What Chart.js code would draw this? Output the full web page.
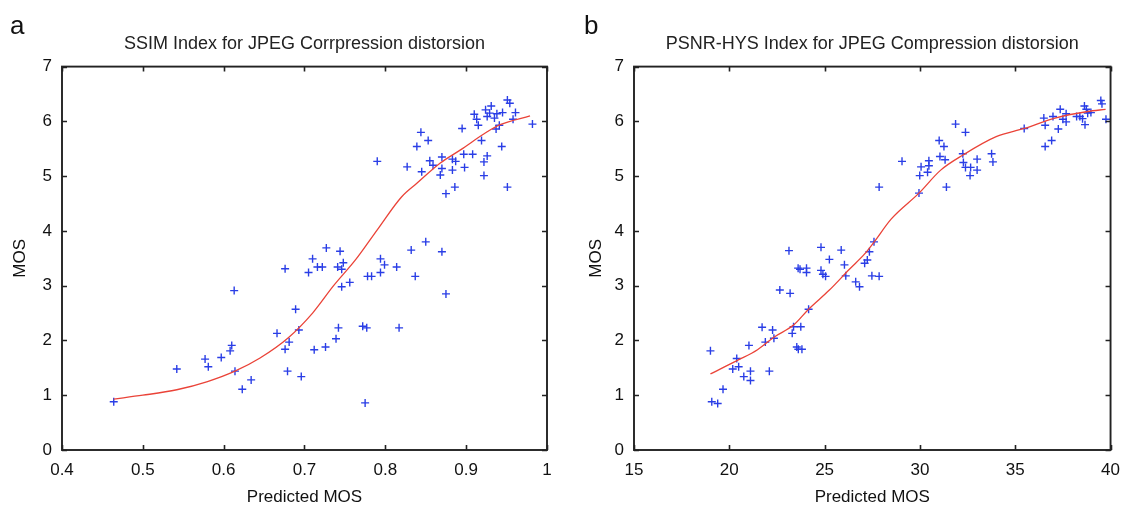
<!DOCTYPE html>
<html>
<head>
<meta charset="utf-8">
<script src="https://cdn.jsdelivr.net/npm/chart.js@4.4.1/dist/chart.umd.min.js"></script>
<style>
    body { margin: 0; background: #fff; }
    #wrap { position: relative; width: 1130px; height: 509px; overflow: hidden; }
    .panel { position: absolute; top: 0; width: 565px; height: 509px; }
    .letra { position: absolute; top: 10px; font-family: "Liberation Sans", Arial, sans-serif; font-size: 26px; color: #111; }
</style>
</head>
<body>
<div id="wrap">
    <div class="panel" style="left:0"><canvas id="chartA" width="565" height="509"></canvas></div>
    <div class="panel" style="left:565px"><canvas id="chartB" width="565" height="509"></canvas></div>
    <span class="letra" style="left:10px">a</span>
    <span class="letra" style="left:584px">b</span>
</div>
<script>
// painel a - SSIM
var ssimX = [0.790,0.827,0.839,0.844,0.853,0.845,0.855,0.859,0.868,0.870,0.870,0.875,0.883,0.883,0.886,0.887,0.897,0.898,0.895,0.908,0.910,0.913,0.915,0.919,0.922,0.922,0.926,0.924,0.926,0.931,0.929,0.935,0.938,0.937,0.941,0.945,0.944,0.951,0.954,0.961,0.958,0.951,0.982,
    0.727,0.744,0.710,0.794,0.832,0.850,0.870,
    0.705,0.716,0.722,0.741,0.746,0.748,0.746,0.756,0.778,0.783,0.794,0.799,0.814,0.837,0.875,0.742,0.772,0.777,0.817,0.739,0.712,0.726,0.696,0.775,
    0.464,0.542,0.577,0.581,0.597,0.608,0.610,0.613,0.614,0.623,0.634,0.666,0.676,0.689,0.693,0.676,0.681,0.679];
var ssimMos = [5.27,5.17,5.54,5.80,5.65,5.08,5.28,5.20,5.02,5.35,5.14,4.68,5.31,5.11,4.80,5.27,5.40,5.16,5.87,5.40,6.13,6.04,5.93,5.65,5.26,5.01,5.37,6.21,6.09,6.28,6.15,6.06,6.14,5.86,5.93,6.16,5.54,6.39,6.33,6.16,6.04,4.80,5.95,
    3.69,3.63,3.49,3.49,3.65,3.80,3.62,
    3.24,3.34,3.34,3.34,3.30,3.42,2.98,3.06,3.17,3.17,3.24,3.38,3.34,3.17,2.85,2.23,2.26,2.23,2.23,2.03,1.83,1.88,1.34,0.86,
    0.88,1.48,1.66,1.52,1.69,1.81,1.91,2.91,1.44,1.11,1.28,2.13,3.31,2.57,2.19,1.84,1.97,1.44];
var ssimFitX = [0.464,0.50,0.542,0.58,0.614,0.645,0.68,0.71,0.736,0.763,0.79,0.82,0.839,0.868,0.893,0.926,0.942,0.979];
var ssimFitMos = [0.93,1.00,1.10,1.25,1.44,1.68,2.05,2.50,3.00,3.47,4.02,4.62,4.87,5.24,5.48,5.81,5.94,6.10];
var ssimTickVals = [0.4,0.5,0.6,0.7,0.8,0.9,1];
var ssimTickLabels = ['0.4','0.5','0.6','0.7','0.8','0.9','1'];

// painel b - PSNR-HYS
var psnrX = [19.01,19.08,19.39,19.67,20.18,20.39,20.49,20.76,21.11,21.11,21.03,22.10,21.72,21.89,22.27,22.34,22.65,23.19,23.30,23.37,23.75,23.54,23.62,23.81,24.16,
    23.61,23.71,24.05,24.05,24.81,24.91,25.05,25.25,26.04,26.11,26.63,26.83,27.10,27.24,27.48,27.35,27.86,23.13,24.81,25.87,
    27.86,27.59,29.06,29.95,29.99,30.06,30.40,30.47,30.47,31.01,31.26,31.05,31.32,31.39,31.87,32.39,32.25,32.28,32.39,32.63,32.66,33.00,33.00,33.76,33.83,
    35.47,36.50,36.57,36.57,36.91,36.98,37.26,37.36,37.50,37.67,37.67,38.22,38.39,38.53,38.63,38.73,38.66,38.80,38.97,39.49,39.55,39.76];
var psnrMos = [1.81,0.88,0.85,1.11,1.48,1.67,1.52,1.34,1.27,1.44,1.91,1.44,2.24,1.97,2.19,2.04,2.92,2.86,2.13,2.25,2.25,1.88,1.84,1.84,2.57,
    3.32,3.30,3.32,3.24,3.28,3.21,3.17,3.48,3.38,3.18,3.07,2.98,3.41,3.47,3.18,3.62,3.17,3.64,3.70,3.65,
    4.80,3.80,5.27,4.69,5.01,5.17,5.07,5.28,5.19,5.65,5.54,5.36,5.30,4.80,5.95,5.80,5.41,5.25,5.16,5.01,5.16,5.31,5.11,5.41,5.26,
    5.87,6.06,5.93,5.54,5.65,6.09,5.86,6.22,6.04,6.14,5.99,6.09,6.09,6.05,6.28,6.22,5.94,6.15,6.16,6.38,6.32,6.04];
var psnrFitX = [19.01,20.45,21.48,22.34,23.37,24.16,25.25,26.3,27.1,27.6,28.5,29.95,31.09,32.28,34.0,35.47,37.08,38.80,39.74];
var psnrFitMos = [1.39,1.64,1.83,2.06,2.28,2.57,2.92,3.30,3.58,3.80,4.22,4.69,5.11,5.39,5.72,5.87,6.06,6.18,6.22];
var psnrTickVals = [15,20,25,30,35,40];
var psnrTickLabels = ['15','20','25','30','35','40'];

var mosTickVals = [0,1,2,3,4,5,6,7];

var fonte = '"Liberation Sans", Arial, sans-serif';

// caixa preta + ticks para dentro (estilo matlab)
var caixaPlugin = {
    id: 'caixa',
    afterDatasetsDraw: function(chart) {
        var ctx = chart.ctx;
        var area = chart.chartArea;
        var sx = chart.scales.x;
        var sy = chart.scales.y;
        ctx.save();
        ctx.strokeStyle = '#222';
        ctx.lineWidth = 1.6;
        ctx.beginPath();
        sx.ticks.forEach(function(t) {
            var px = Math.round(sx.getPixelForValue(t.value)) + 0.5;
            ctx.moveTo(px, area.bottom); ctx.lineTo(px, area.bottom - 5);
            ctx.moveTo(px, area.top); ctx.lineTo(px, area.top + 5);
        });
        sy.ticks.forEach(function(t) {
            var py = Math.round(sy.getPixelForValue(t.value)) + 0.5;
            ctx.moveTo(area.left, py); ctx.lineTo(area.left + 5, py);
            ctx.moveTo(area.right, py); ctx.lineTo(area.right - 5, py);
        });
        ctx.stroke();
        ctx.lineWidth = 1.9;
        ctx.strokeRect(area.left, area.top, area.right - area.left, area.bottom - area.top);
        ctx.restore();
    }
};

function montaGrafico(idCanvas, titulo, xs, ys, fitXs, fitYs, xMin, xMax, tickVals, tickLabels, larguraY, padDir, padTituloY) {
    var ctx = document.getElementById(idCanvas).getContext('2d');
    var pontos = [];
    var curva = [];
    for (let i = 0; i < xs.length; i++) {
        pontos.push({x: xs[i], y: ys[i]});
    }
    for (let i = 0; i < fitXs.length; i++) {
        curva.push({x: fitXs[i], y: fitYs[i]});
    }

    return new Chart(ctx, {
        type: 'scatter',
        data: {
            datasets: [{
                label: 'fit',
                data: curva,
                showLine: true,
                borderColor: '#ea4338',
                borderWidth: 1.3,
                pointRadius: 0,
                cubicInterpolationMode: 'monotone',
                order: 0
            }, {
                label: 'MOS',
                data: pontos,
                pointStyle: 'cross',
                pointRadius: 4,
                borderColor: '#2a3ee6',
                borderWidth: 1.4,
                order: 1
            }]
        },
        options: {
            responsive: false,
            animation: false,
            layout: {
                padding: {left: 0, right: padDir, top: 0, bottom: 0}
            },
            plugins: {
                legend: {display: false},
                tooltip: {enabled: false},
                title: {
                    display: true,
                    fullSize: false,
                    text: titulo,
                    color: '#222',
                    font: {family: fonte, size: 18, weight: 'normal'},
                    padding: {top: 33, bottom: 12}
                }
            },
            scales: {
                x: {
                    type: 'linear',
                    min: xMin,
                    max: xMax,
                    afterBuildTicks: function(scale) {
                        scale.ticks = tickVals.map(function(v) { return {value: v}; });
                    },
                    afterFit: function(scale) { scale.height = 59; },
                    grid: {display: false, drawTicks: false, tickLength: 0},
                    border: {display: false},
                    ticks: {
                        color: '#111',
                        padding: 10,
                        maxRotation: 0,
                        autoSkip: false,
                        font: {family: fonte, size: 17},
                        callback: function(value, index) { return tickLabels[index]; }
                    },
                    title: {
                        display: true,
                        text: 'Predicted MOS',
                        color: '#111',
                        font: {family: fonte, size: 17},
                        padding: {top: 0, bottom: 1}
                    }
                },
                y: {
                    type: 'linear',
                    min: 0,
                    max: 7,
                    afterBuildTicks: function(scale) {
                        scale.ticks = mosTickVals.map(function(v) { return {value: v}; });
                    },
                    afterFit: function(scale) { scale.width = larguraY; },
                    grid: {display: false, drawTicks: false, tickLength: 0},
                    border: {display: false},
                    ticks: {
                        color: '#111',
                        padding: 10,
                        autoSkip: false,
                        font: {family: fonte, size: 17}
                    },
                    title: {
                        display: true,
                        text: 'MOS',
                        color: '#111',
                        font: {family: fonte, size: 17},
                        padding: {top: padTituloY, bottom: 0}
                    }
                }
            }
        },
        plugins: [caixaPlugin]
    });
}

montaGrafico('chartA', 'SSIM Index for JPEG Corrpression distorsion', ssimX, ssimMos, ssimFitX, ssimFitMos,
    0.4, 1, ssimTickVals, ssimTickLabels, 62, 18, 10);
montaGrafico('chartB', 'PSNR-HYS Index for JPEG Compression distorsion', psnrX, psnrMos, psnrFitX, psnrFitMos,
    15, 40, psnrTickVals, psnrTickLabels, 69, 10, 21);
</script>
</body>
</html>
